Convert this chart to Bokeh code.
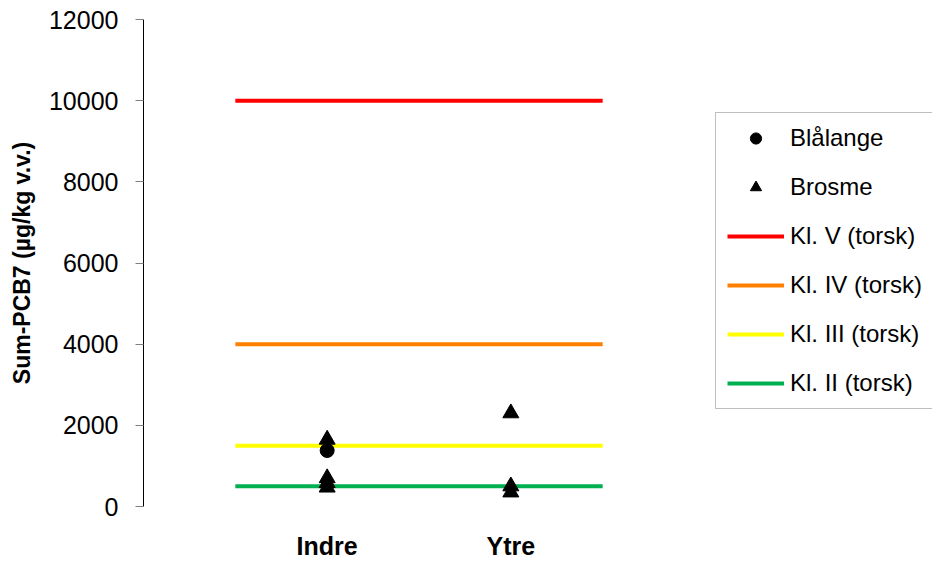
from bokeh.plotting import figure
from bokeh.models import Range1d, Legend, LegendItem, FixedTicker
from bokeh.embed import file_html
from bokeh.resources import INLINE

categories = ["Indre", "Ytre"]

blalange_cat = ["Indre"]
blalange_val = [1380]

brosme_cat = ["Indre", "Indre", "Indre", "Indre", "Ytre", "Ytre", "Ytre"]
brosme_val = [1650, 700, 580, 470, 2300, 500, 350]

class_names = ["Kl. V (torsk)", "Kl. IV (torsk)", "Kl. III (torsk)", "Kl. II (torsk)"]
class_limits = [10000, 4000, 1500, 500]
class_colors = ["#FF0000", "#FF8000", "#FFFF00", "#00B050"]

y_ticks = [0, 2000, 4000, 6000, 8000, 10000, 12000]

pos = {c: i + 1 for i, c in enumerate(categories)}

W, H = 932, 562
LEFT, TOP, BOTTOM = 143, 19, 55
cat_px = (694 - LEFT) / (len(categories) + 1)
x_end = (W - LEFT) / cat_px

p = figure(width=W, height=H, output_backend="svg", toolbar_location=None,
           x_range=Range1d(0, x_end), y_range=Range1d(0, 12000),
           min_border_left=LEFT, min_border_right=0, min_border_top=TOP,
           min_border_bottom=BOTTOM)
p.outline_line_color = None
p.grid.visible = False
p.background_fill_color = "white"
p.border_fill_color = "white"

FONT = "Liberation Sans"

line_renderers = []
for lim, col in zip(class_limits, class_colors):
    r = p.line([0.5, len(categories) + 0.5], [lim, lim], line_color=col, line_width=4)
    line_renderers.append(r)

r_circ = p.scatter([pos[c] for c in blalange_cat], blalange_val, marker="circle",
                   size=14, fill_color="black", line_color="black")
r_tri = p.scatter([pos[c] for c in brosme_cat], brosme_val, marker="triangle",
                  size=16, fill_color="black", line_color="black")

# axes
yax = p.yaxis[0]
yax.ticker = FixedTicker(ticks=y_ticks)
yax.axis_line_color = "black"
yax.axis_line_width = 1
yax.major_tick_line_color = "#808080"
yax.major_tick_in = 0
yax.major_tick_out = 8
yax.minor_tick_line_color = None
yax.major_label_text_font = FONT
yax.major_label_text_font_size = "25px"
yax.major_label_text_color = "black"
yax.major_label_standoff = 17
yax.axis_label = "Sum-PCB7 (µg/kg v.v.)"
yax.axis_label_text_font = FONT
yax.axis_label_text_font_size = "23px"
yax.axis_label_text_font_style = "bold"
yax.axis_label_text_color = "black"
yax.axis_label_standoff = 11

xax = p.xaxis[0]
xax.ticker = FixedTicker(ticks=[pos[c] for c in categories])
xax.major_label_overrides = {pos[c]: c for c in categories}
xax.axis_line_color = None
xax.major_tick_line_color = None
xax.major_tick_in = 0
xax.major_tick_out = 0
xax.minor_tick_line_color = None
xax.minor_tick_in = 0
xax.minor_tick_out = 0
xax.major_label_text_font = FONT
xax.major_label_text_font_size = "25px"
xax.major_label_text_font_style = "bold"
xax.major_label_text_color = "black"
xax.major_label_standoff = 25

items = [LegendItem(label="Blålange", renderers=[r_circ]),
         LegendItem(label="Brosme", renderers=[r_tri])]
for name, r in zip(class_names, line_renderers):
    items.append(LegendItem(label=name, renderers=[r]))

legend = Legend(items=items, location=(715 - LEFT, H - BOTTOM - 410))
legend.label_text_font = FONT
legend.label_text_font_size = "24px"
legend.label_text_color = "black"
legend.glyph_width = 57
legend.glyph_height = 28
legend.label_height = 28
legend.spacing = 21
legend.label_standoff = 6
legend.padding = 11
legend.margin = 0
legend.border_line_color = "#808080"
legend.border_line_width = 1
legend.background_fill_color = "white"
legend.background_fill_alpha = 1
p.add_layout(legend, "center")

open("out.html", "w").write(file_html(p, INLINE))
